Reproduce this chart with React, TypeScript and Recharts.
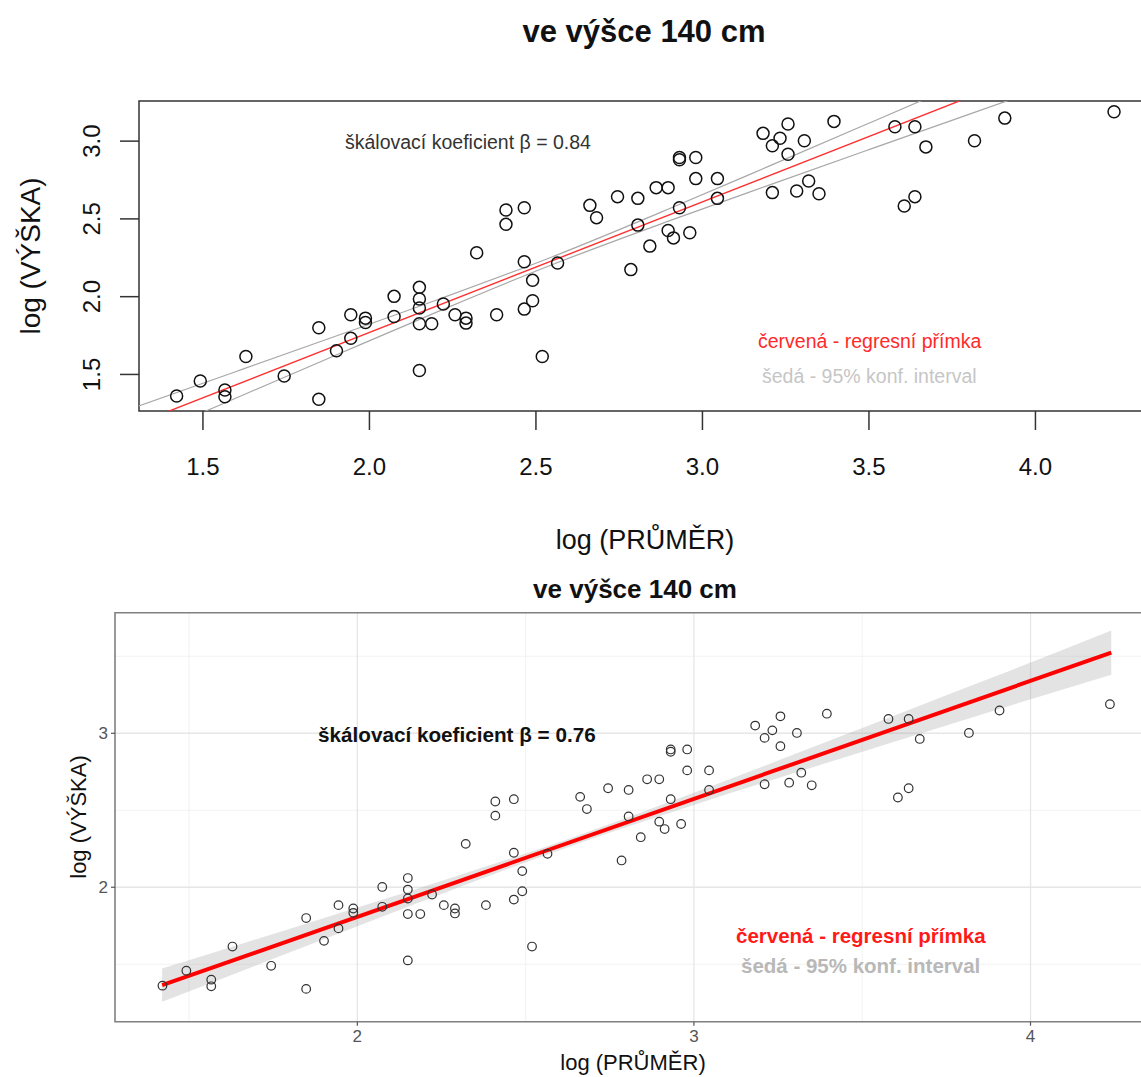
import {
  Area,
  CartesianGrid,
  ComposedChart,
  Line,
  ReferenceArea,
  Scatter,
  XAxis,
  YAxis,
} from "recharts";

const prumer = [
  1.421, 1.492, 1.566, 1.566, 1.629, 1.744, 1.848, 1.848, 1.901, 1.944,
  1.944, 1.988, 1.988, 2.074, 2.074, 2.15, 2.15, 2.15, 2.15, 2.15,
  2.187, 2.222, 2.257, 2.29, 2.29, 2.322, 2.382, 2.41, 2.41, 2.465,
  2.465, 2.465, 2.49, 2.49, 2.519, 2.565, 2.662, 2.682, 2.745, 2.785,
  2.806, 2.806, 2.842, 2.861, 2.897, 2.897, 2.913, 2.931, 2.931, 2.931,
  2.962, 2.98, 2.98, 3.045, 3.045, 3.182, 3.21, 3.21, 3.233, 3.257,
  3.257, 3.283, 3.306, 3.319, 3.35, 3.395, 3.578, 3.606, 3.638, 3.638,
  3.671, 3.817, 3.908, 4.236,
];
const vyska = [
  1.361, 1.458, 1.4, 1.357, 1.615, 1.49, 1.34, 1.8, 1.652, 1.733,
  1.884, 1.862, 1.834, 2.002, 1.873, 2.06, 1.985, 1.927, 1.826, 1.525,
  1.826, 1.953, 1.884, 1.862, 1.83, 2.282, 1.884, 2.557, 2.465, 2.572,
  2.224, 1.92, 2.105, 1.974, 1.615, 2.217, 2.587, 2.508, 2.643, 2.174,
  2.632, 2.46, 2.325, 2.701, 2.701, 2.426, 2.378, 2.895, 2.88, 2.572,
  2.411, 2.895, 2.759, 2.759, 2.632, 3.05, 2.97, 2.669, 3.019, 3.11,
  2.916, 2.679, 3.002, 2.744, 2.662, 3.127, 3.093, 2.583, 3.093, 2.643,
  2.963, 3.002, 3.148, 3.189,
];

// top plot (base R): regression line and the two confidence lines
const fitTopX = [1.3, 4.35];
const fitTopY = [1.182, 3.744];
const ciTopX = [1.3, 1.6, 1.9, 2.2, 2.55, 2.9, 3.2, 3.5, 3.8, 4.0];
const ciTopUpper = [1.292, 1.519, 1.747, 1.977, 2.257, 2.565, 2.839, 3.115, 3.392, 3.577];
const ciTopLower = [1.072, 1.349, 1.625, 1.899, 2.207, 2.487, 2.717, 2.945, 3.172, 3.323];

// bottom plot (ggplot): smooth line and its ribbon
const fitBottomX = [1.42, 4.24];
const fitBottomY = [1.364, 3.524];
const bandX = [1.42, 1.7, 2.0, 2.3, 2.65, 3.0, 3.3, 3.6, 3.9, 4.24];
const bandLow = [1.256, 1.493, 1.747, 1.999, 2.28, 2.535, 2.743, 2.949, 3.153, 3.38];
const bandHigh = [1.472, 1.663, 1.869, 2.077, 2.332, 2.613, 2.865, 3.119, 3.373, 3.668];

const topXTicks = [1.5, 2, 2.5, 3, 3.5, 4];
const topYTicks = [1.5, 2, 2.5, 3];
const bottomXTicks = [2, 3, 4];
const bottomYTicks = [2, 3];
const bottomMinorX = [1.5, 2.5, 3.5];
const bottomMinorY = [1.5, 2.5, 3.5];

const TOP_X_DOMAIN: [number, number] = [1.308, 4.347];
const TOP_Y_DOMAIN: [number, number] = [1.265, 3.258];
const BOT_X_DOMAIN: [number, number] = [1.28, 4.358];
const BOT_Y_DOMAIN: [number, number] = [1.127, 3.783];

const FONT = '"Liberation Sans", Arial, sans-serif';

const points = prumer.map((x, i) => ({ x, y: vyska[i] }));
const toLine = (xs: number[], ys: number[]) => xs.map((x, i) => ({ x, y: ys[i] }));
const fitTop = toLine(fitTopX, fitTopY);
const ciUpper = toLine(ciTopX, ciTopUpper);
const ciLower = toLine(ciTopX, ciTopLower);
const fitBottom = toLine(fitBottomX, fitBottomY);
const band = bandX.map((x, i) => ({ x, band: [bandLow[i], bandHigh[i]] }));

const TopXTick = ({ x, y, payload }: any) => (
  <text x={x} y={y + 45} textAnchor="middle" fontSize={24} fill="#111" fontFamily={FONT}>
    {Number(payload.value).toFixed(1)}
  </text>
);

const TopYTick = ({ x, y, payload }: any) => (
  <text
    x={x - 20}
    y={y}
    textAnchor="middle"
    fontSize={24}
    fill="#111"
    fontFamily={FONT}
    transform={`rotate(-90, ${x - 20}, ${y})`}
  >
    {Number(payload.value).toFixed(1)}
  </text>
);

const BotXTick = ({ x, y, payload }: any) => (
  <text x={x} y={y + 16} textAnchor="middle" fontSize={17} fill="#555" fontFamily={FONT}>
    {payload.value}
  </text>
);

const BotYTick = ({ x, y, payload }: any) => (
  <text x={x - 3} y={y + 6} textAnchor="end" fontSize={17} fill="#555" fontFamily={FONT}>
    {payload.value}
  </text>
);

const bigCircle = (p: any) => (
  <circle cx={p.cx} cy={p.cy} r={6} fill="none" stroke="#111" strokeWidth={1.5} />
);
const smallCircle = (p: any) => (
  <circle cx={p.cx} cy={p.cy} r={4.3} fill="none" stroke="#333" strokeWidth={1.2} />
);

function TopChart() {
  return (
    <ComposedChart width={1151} height={560} margin={{ top: 101, right: 0, bottom: 0, left: 0 }}>
      <XAxis
        type="number"
        dataKey="x"
        domain={TOP_X_DOMAIN}
        allowDataOverflow
        ticks={topXTicks}
        tickSize={19}
        tickMargin={0}
        tick={TopXTick}
        tickLine={{ stroke: "#333", strokeWidth: 1.5 }}
        axisLine={false}
        height={149}
      />
      <YAxis
        type="number"
        domain={TOP_Y_DOMAIN}
        allowDataOverflow
        ticks={topYTicks}
        tickSize={19}
        tickMargin={0}
        tick={TopYTick}
        tickLine={{ stroke: "#333", strokeWidth: 1.5 }}
        axisLine={false}
        width={139}
      />
      <ReferenceArea
        x1={TOP_X_DOMAIN[0]}
        x2={TOP_X_DOMAIN[1]}
        y1={TOP_Y_DOMAIN[0]}
        y2={TOP_Y_DOMAIN[1]}
        fill="none"
        stroke="#333"
        strokeWidth={1.5}
      />
      <Scatter data={points} dataKey="y" shape={bigCircle} isAnimationActive={false} />
      <Line data={ciUpper} dataKey="y" type="monotone" stroke="#a8a8a8" strokeWidth={1.2} dot={false} isAnimationActive={false} />
      <Line data={ciLower} dataKey="y" type="monotone" stroke="#a8a8a8" strokeWidth={1.2} dot={false} isAnimationActive={false} />
      <Line data={fitTop} dataKey="y" type="linear" stroke="#ff3030" strokeWidth={1.4} dot={false} isAnimationActive={false} />
    </ComposedChart>
  );
}

function BottomChart() {
  return (
    <ComposedChart width={1151} height={517} margin={{ top: 52.7, right: 0, bottom: 0, left: 0 }}>
      <CartesianGrid
        stroke="#f1f1f1"
        strokeWidth={0.9}
        horizontalValues={bottomMinorY}
        verticalValues={bottomMinorX}
      />
      <CartesianGrid
        stroke="#e6e6e6"
        strokeWidth={1.3}
        horizontalValues={bottomYTicks}
        verticalValues={bottomXTicks}
      />
      <XAxis
        type="number"
        dataKey="x"
        domain={BOT_X_DOMAIN}
        allowDataOverflow
        ticks={bottomXTicks}
        tickSize={4}
        tickMargin={0}
        tick={BotXTick}
        tickLine={{ stroke: "#555", strokeWidth: 1.2 }}
        axisLine={false}
        height={55.3}
      />
      <YAxis
        type="number"
        domain={BOT_Y_DOMAIN}
        allowDataOverflow
        ticks={bottomYTicks}
        tickSize={4}
        tickMargin={0}
        tick={BotYTick}
        tickLine={{ stroke: "#555", strokeWidth: 1.2 }}
        axisLine={false}
        width={115}
      />
      <Scatter data={points} dataKey="y" shape={smallCircle} isAnimationActive={false} />
      <Area
        data={band}
        dataKey="band"
        type="monotone"
        stroke="none"
        fill="#9a9a9a"
        fillOpacity={0.28}
        isAnimationActive={false}
      />
      <Line data={fitBottom} dataKey="y" type="linear" stroke="#ff0000" strokeWidth={4} dot={false} isAnimationActive={false} />
      <ReferenceArea
        x1={BOT_X_DOMAIN[0]}
        x2={BOT_X_DOMAIN[1]}
        y1={BOT_Y_DOMAIN[0]}
        y2={BOT_Y_DOMAIN[1]}
        fill="none"
        stroke="#808080"
        strokeWidth={1.6}
      />
    </ComposedChart>
  );
}

function Texts() {
  return (
    <svg width={1141} height={1077} style={{ position: "absolute", left: 0, top: 0, pointerEvents: "none" }} fontFamily={FONT}>
      <text x={644} y={41.5} textAnchor="middle" fontSize={31} fontWeight="bold" fill="#111">ve výšce 140 cm</text>
      <text x={345} y={149} fontSize={19.5} fill="#333">škálovací koeficient β = 0.84</text>
      <text x={758} y={348} fontSize={19.5} fill="#ff2a2a">červená - regresní přímka</text>
      <text x={762} y={383} fontSize={19.5} fill="#c6c6c6">šedá - 95% konf. interval</text>
      <text x={645} y={549} textAnchor="middle" fontSize={27} fill="#111">log (PRŮMĚR)</text>
      <text x={40} y={256} textAnchor="middle" fontSize={28} fill="#111" transform="rotate(-90, 40, 256)">log (VÝŠKA)</text>

      <text x={635} y={598} textAnchor="middle" fontSize={26} fontWeight="bold" fill="#111">ve výšce 140 cm</text>
      <text x={318} y={742} fontSize={20.7} fontWeight="bold" fill="#111">škálovací koeficient β = 0.76</text>
      <text x={736} y={943} fontSize={20.5} fontWeight="bold" fill="#ff1a1a">červená - regresní přímka</text>
      <text x={741} y={973} fontSize={20.5} fontWeight="bold" fill="#b8b8b8">šedá - 95% konf. interval</text>
      <text x={633} y={1070} textAnchor="middle" fontSize={22} fill="#111">log (PRŮMĚR)</text>
      <text x={86} y={817} textAnchor="middle" fontSize={22} fill="#111" transform="rotate(-90, 86, 817)">log (VÝŠKA)</text>
    </svg>
  );
}

export default function App() {
  return (
    <div
      style={{
        position: "absolute",
        left: 0,
        top: 0,
        width: 1141,
        height: 1077,
        overflow: "hidden",
        background: "#fff",
        fontFamily: FONT,
      }}
    >
      <TopChart />
      <BottomChart />
      <Texts />
    </div>
  );
}
